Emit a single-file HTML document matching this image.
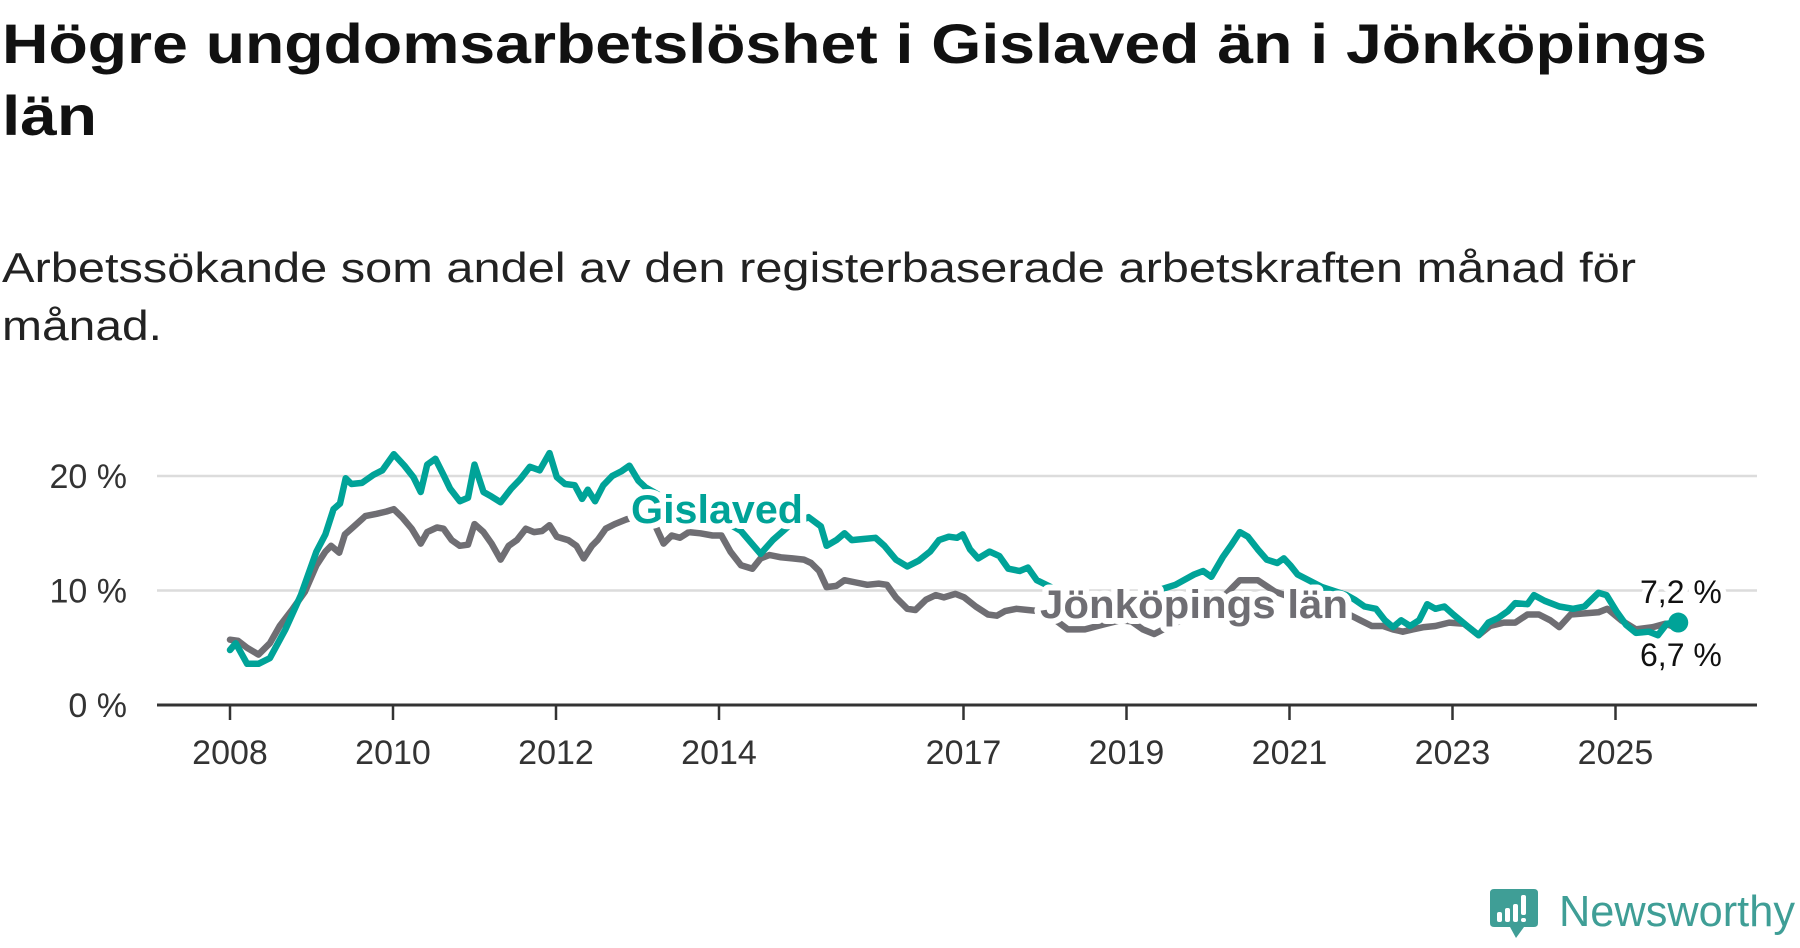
<!DOCTYPE html>
<html><head><meta charset="utf-8"><style>
html,body{margin:0;padding:0;background:#fff;}
svg{display:block;font-family:"Liberation Sans",sans-serif;}
.halo{paint-order:stroke;stroke:#fff;stroke-width:12px;stroke-linejoin:round;}
</style></head><body>
<svg id="chart" width="1800" height="948" viewBox="0 0 1800 948" xmlns="http://www.w3.org/2000/svg">
<text x="2" y="63" font-size="56" font-weight="bold" fill="#111" textLength="1705" lengthAdjust="spacingAndGlyphs">Högre ungdomsarbetslöshet i Gislaved än i Jönköpings</text>
<text x="2" y="135" font-size="56" font-weight="bold" fill="#111" textLength="95" lengthAdjust="spacingAndGlyphs">län</text>
<text x="2" y="282" font-size="42" fill="#222" textLength="1634" lengthAdjust="spacingAndGlyphs">Arbetssökande som andel av den registerbaserade arbetskraften månad för</text>
<text x="2" y="340" font-size="42" fill="#222" textLength="160" lengthAdjust="spacingAndGlyphs">månad.</text>
<g id="grid"></g>
<g id="yticks"></g>
<g id="xticks"></g>
<g id="lines"></g>
<g id="labels"></g>
<g>
<path d="M1494 889 H1534 Q1538 889 1538 893 V923 Q1538 927 1534 927 H1524 L1516 938 L1510 927 H1494 Q1490 927 1490 923 V893 Q1490 889 1494 889 Z" fill="#3f9e96"/>
<rect x="1497" y="912" width="5" height="10" rx="2" fill="#fff"/>
<rect x="1505" y="908" width="5" height="14" rx="2" fill="#fff"/>
<rect x="1513" y="904" width="5" height="18" rx="2" fill="#fff"/>
<rect x="1521" y="895" width="5" height="20" rx="2" fill="#fff"/>
<rect x="1521" y="918" width="5" height="4" rx="2" fill="#fff"/>
<text x="1559" y="926" font-size="44" fill="#3f9e96" textLength="236" lengthAdjust="spacingAndGlyphs">Newsworthy</text>
</g>
</svg>
<script>
const gisT=[0.00,0.07,0.21,0.35,0.49,0.68,0.87,1.06,1.17,1.27,1.35,1.42,1.49,1.62,1.76,1.87,2.01,2.14,2.25,2.34,2.42,2.52,2.62,2.70,2.82,2.92,3.00,3.11,3.21,3.32,3.45,3.56,3.68,3.80,3.92,4.01,4.11,4.23,4.32,4.39,4.48,4.58,4.69,4.80,4.90,5.01,5.10,5.4,5.8,6.1,6.27,6.51,6.66,6.85,7.10,7.25,7.32,7.44,7.54,7.63,7.77,7.92,8.03,8.17,8.31,8.45,8.59,8.70,8.82,8.92,8.99,9.08,9.18,9.32,9.44,9.55,9.69,9.79,9.90,10.3,10.8,11.2,11.6,11.83,11.94,12.04,12.18,12.28,12.39,12.49,12.61,12.72,12.85,12.93,13.01,13.10,13.4,13.7,13.80,13.92,14.06,14.17,14.27,14.37,14.48,14.59,14.69,14.79,14.90,15.01,15.18,15.32,15.44,15.56,15.68,15.77,15.92,16.00,16.13,16.31,16.48,16.62,16.79,16.89,17.01,17.13,17.25,17.41,17.52,17.63,17.77];
const gisV=[4.8,5.4,3.6,3.6,4.1,6.6,9.6,13.4,14.9,17.1,17.6,19.8,19.3,19.4,20.1,20.5,21.9,20.9,19.9,18.6,21.0,21.5,20.1,18.9,17.8,18.1,21.0,18.6,18.2,17.7,18.9,19.7,20.8,20.5,22.0,19.9,19.3,19.2,18.0,18.8,17.8,19.2,20.0,20.4,20.9,19.6,19.0,17.8,16.6,15.9,15.2,13.2,14.4,15.6,16.4,15.6,13.9,14.4,15.0,14.4,14.5,14.6,13.9,12.7,12.1,12.6,13.4,14.4,14.7,14.6,14.9,13.6,12.8,13.4,13.0,11.9,11.7,12.0,10.9,9.5,8.8,9.6,10.5,11.4,11.7,11.2,12.9,13.9,15.1,14.7,13.6,12.7,12.4,12.8,12.2,11.4,10.3,9.6,9.2,8.6,8.4,7.4,6.8,7.4,6.9,7.4,8.8,8.4,8.6,7.9,6.9,6.1,7.2,7.6,8.2,8.9,8.8,9.6,9.1,8.6,8.4,8.6,9.8,9.6,8.2,7.0,6.3,6.4,6.1,7.1,7.2];
const jkpT=[0.00,0.10,0.21,0.35,0.49,0.61,0.77,0.92,1.06,1.17,1.24,1.34,1.41,1.52,1.66,1.80,1.92,2.01,2.11,2.23,2.34,2.42,2.54,2.62,2.72,2.82,2.92,3.00,3.11,3.21,3.32,3.42,3.52,3.63,3.73,3.83,3.92,4.01,4.15,4.25,4.34,4.44,4.51,4.61,4.72,4.86,5.0,5.21,5.32,5.42,5.52,5.63,5.77,5.92,6.03,6.14,6.27,6.41,6.51,6.62,6.76,6.90,7.04,7.13,7.23,7.32,7.44,7.54,7.68,7.82,7.96,8.06,8.17,8.31,8.41,8.54,8.66,8.76,8.90,9.01,9.15,9.30,9.41,9.51,9.65,9.79,9.93,10.15,10.28,10.49,10.70,10.92,11.06,11.20,11.34,11.7,12.1,12.39,12.61,12.82,13.1,13.5,13.73,13.87,14.01,14.15,14.27,14.39,14.51,14.65,14.79,14.96,15.14,15.32,15.46,15.63,15.77,15.92,16.06,16.20,16.31,16.45,16.62,16.79,16.90,17.07,17.25,17.46,17.61,17.77];
const jkpV=[5.7,5.6,5.0,4.4,5.4,6.9,8.4,9.9,12.2,13.4,13.9,13.3,14.9,15.6,16.5,16.7,16.9,17.1,16.4,15.4,14.1,15.1,15.5,15.4,14.4,13.9,14.0,15.8,15.1,14.1,12.7,13.9,14.4,15.4,15.1,15.2,15.7,14.7,14.4,13.9,12.8,13.9,14.4,15.4,15.8,16.2,16.5,15.8,14.1,14.8,14.6,15.1,15.0,14.8,14.8,13.4,12.2,11.9,12.8,13.1,12.9,12.8,12.7,12.4,11.7,10.3,10.4,10.9,10.7,10.5,10.6,10.5,9.4,8.4,8.3,9.2,9.6,9.4,9.7,9.4,8.6,7.9,7.8,8.2,8.4,8.3,8.2,7.3,6.6,6.6,7.0,7.4,7.3,6.6,6.2,7.5,8.8,10.9,10.9,9.9,9.2,8.4,7.9,7.4,6.9,6.9,6.6,6.4,6.6,6.8,6.9,7.2,7.1,6.1,6.9,7.2,7.2,7.9,7.9,7.4,6.8,7.9,8.0,8.1,8.4,7.4,6.6,6.8,7.1,6.7];
const yTicks=[0,10,20];
const yTickLabels=["0 %","10 %","20 %"];
const xLabelYears=[2008,2010,2012,2014,2017,2019,2021,2023,2025];
const startYear=2008;
const NS="http://www.w3.org/2000/svg";
const X0=230,PX_PER_YEAR=81.5,Y0=705,PX_PER_PCT=11.45,LEFT=157,RIGHT=1757;
const x=t=>X0+t*PX_PER_YEAR;
const y=v=>Y0-v*PX_PER_PCT;
function mk(tag,attrs,parent){const e=document.createElementNS(NS,tag);for(const k in attrs)e.setAttribute(k,attrs[k]);parent.appendChild(e);return e;}
const grid=document.getElementById('grid'),yt=document.getElementById('yticks'),xt=document.getElementById('xticks');
yTicks.forEach((v,i)=>{
  if(v>0){const g=mk('line',{x1:LEFT,x2:RIGHT,y1:y(v),y2:y(v),stroke:'#dcdcdc','stroke-width':2.5},grid);
  
  }
  const t=mk('text',{x:127,y:y(v)+12,'text-anchor':'end','font-size':34,fill:'#333'},yt);
  t.textContent=yTickLabels[i];
  
  
});
const ax=mk('line',{x1:LEFT,x2:RIGHT,y1:Y0,y2:Y0,stroke:'#333','stroke-width':3},xt);


xLabelYears.forEach(yr=>{
  const tk=mk('line',{x1:x(yr-startYear),x2:x(yr-startYear),y1:Y0,y2:Y0+15,stroke:'#333','stroke-width':2.5},xt);
  
  
  const t=mk('text',{x:x(yr-startYear),y:764,'text-anchor':'middle','font-size':34,fill:'#333'},xt);
  t.textContent=yr;
  
  
});
const lines=document.getElementById('lines');
function path(T,V,col,name){
  const d=T.map((t,i)=>(i?'L':'M')+x(t).toFixed(1)+' '+y(V[i]).toFixed(1)).join(' ');
  const p=mk('path',{d:d,fill:'none',stroke:col,'stroke-width':6.5,'stroke-linejoin':'round','stroke-linecap':'round'},lines);
  
  
}
path(jkpT,jkpV,'#6f6e73','line-jonkopings-lan');
path(gisT,gisV,'#00a398','line-gislaved');
const lt=gisT[gisT.length-1],lv=gisV[gisV.length-1];
const dot=mk('circle',{cx:x(lt),cy:y(lv),r:10,fill:'#00a398'},lines);


const lab=document.getElementById('labels');
function txt(s,a,name){const t=mk('text',a,lab);t.textContent=s;
  
  return t;}
txt('Gislaved',{x:631,y:523,'font-size':40,'font-weight':'bold',fill:'#00a398',class:'halo',textLength:172,lengthAdjust:'spacingAndGlyphs'},'series-label-gislaved');
txt('Jönköpings län',{x:1040,y:618,'font-size':40,'font-weight':'bold',fill:'#6f6e73',class:'halo',textLength:308,lengthAdjust:'spacingAndGlyphs'},'series-label-jonkopings-lan');
txt('7,2 %',{x:1640,y:603,'font-size':32,fill:'#111',class:'halo'},'end-value-gislaved');
txt('6,7 %',{x:1640,y:666,'font-size':32,fill:'#111',class:'halo'},'end-value-jonkopings');
</script>
</body></html>
